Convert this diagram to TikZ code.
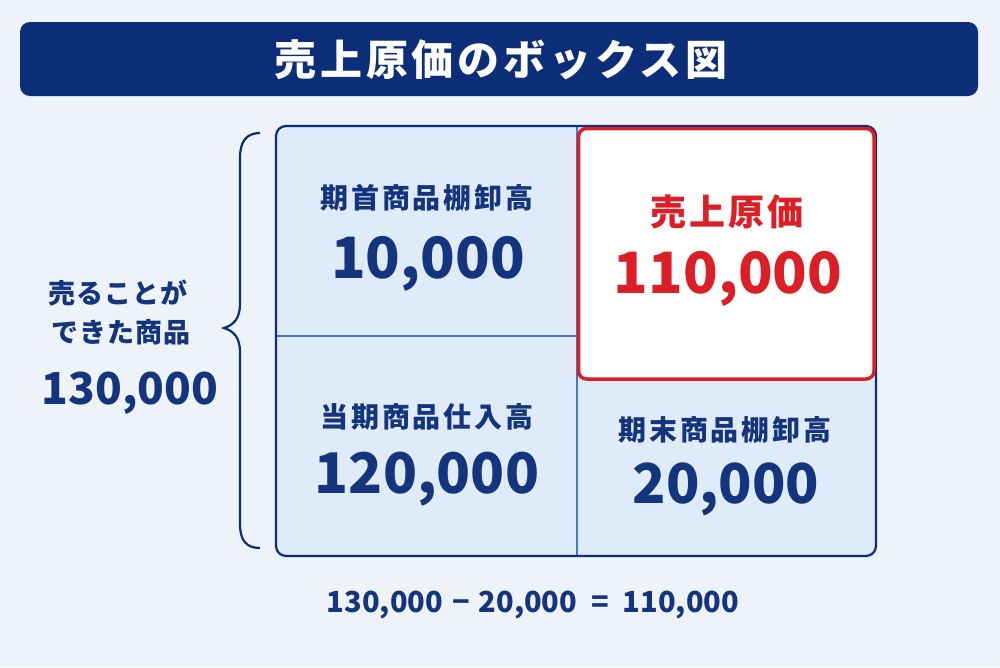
\documentclass[tikz,border=0pt]{standalone}
\usepackage{fontspec}
\setmainfont{Noto Sans CJK JP}
\usetikzlibrary{positioning}
\definecolor{navy}{HTML}{0C2D78}
\definecolor{textblue}{HTML}{14357D}
\definecolor{cellfill}{HTML}{DFEBF8}
\definecolor{divline}{HTML}{3F7CC4}
\definecolor{costred}{HTML}{DC1F26}
\definecolor{bgblue}{HTML}{EEF3FA}
\begin{document}
\begin{tikzpicture}[x=1pt,y=-1pt,
	celltitle/.style={font=\fontsize{28}{30}\selectfont\bfseries\addfontfeature{LetterSpace=10}, text=textblue, inner sep=0pt},
	cellvalue/.style={font=\fontsize{56}{58}\selectfont\bfseries, text=textblue, inner sep=0pt},
	sidetext/.style={font=\fontsize{27}{29}\selectfont\bfseries\addfontfeature{LetterSpace=4}, text=textblue, inner sep=0pt}]
	\useasboundingbox (0,0) rectangle (1000,667);
	\fill[bgblue] (0,0) rectangle (1000,667);
	% title bar
	\fill[navy, rounded corners=10] (20,22) rectangle (978,96);
	\node (title) at (501,60) [inner sep=0pt, text=white, font=\fontsize{42}{44}\selectfont\bfseries\addfontfeature{LetterSpace=9}] {売上原価のボックス図};
	% box
	\coordinate (boxNW) at (276,126);
	\coordinate (boxSE) at (876,556);
	\coordinate (midN) at (577,126);
	\coordinate (midS) at (577,556);
	\coordinate (leftW) at (276,336);
	\coordinate (leftE) at (577,336);
	\fill[cellfill, rounded corners=10] (boxNW) rectangle (boxSE);
	\draw[divline, line width=1.5] (midN) -- (midS);
	\draw[divline, line width=1.5] (leftW) -- (leftE);
	\draw[navy, line width=2.2, rounded corners=10] (boxNW) rectangle (boxSE);
	\draw[costred, fill=white, line width=3.5, rounded corners=8] (578.5,128.5) rectangle (874,379);
	% cell texts
	\node (opentitle) at (427,198) [celltitle] {期首商品棚卸高};
	\node (openvalue) at (428,264) [cellvalue, font=\fontsize{57}{59}\selectfont\bfseries] {10,000};
	\node (buytitle) at (427,417) [celltitle] {当期商品仕入高};
	\node (buyvalue) at (427,479) [cellvalue] {120,000};
	\node (closetitle) at (725,430) [celltitle] {期末商品棚卸高};
	\node (closevalue) at (726,489) [cellvalue, font=\fontsize{55}{57}\selectfont\bfseries] {20,000};
	\node (costtitle) at (727,212) [inner sep=0pt, text=costred, font=\fontsize{36}{38}\selectfont\bfseries\addfontfeature{LetterSpace=8}] {売上原価};
	\node (costvalue) at (728,279) [inner sep=0pt, text=costred, font=\fontsize{57}{59}\selectfont\bfseries] {110,000};
	% brace and left side
	\draw[navy, line width=2.2] (260,133) .. controls (246,133) and (240,142) .. (240,158) -- (240,304)
		.. controls (240,318) and (234,325) .. (224,328) .. controls (234,331) and (240,338) .. (240,352)
		-- (240,524) .. controls (240,540) and (246,548) .. (260,548);
	\node (sellA) at (118,293) [sidetext] {売ることが};
	\node (sellB) at (121,332) [sidetext] {できた商品};
	\node (sellvalue) at (130,393) [inner sep=0pt, text=textblue, font=\fontsize{44}{46}\selectfont\bfseries] {130,000};
	% formula
	\node (formula) at (533,605) [inner sep=0pt, text=textblue, font=\fontsize{29}{31}\selectfont\bfseries] {130,000\hspace{9pt}−\hspace{9pt}20,000\hspace{14pt}=\hspace{14pt}110,000};
\end{tikzpicture}
\end{document}
